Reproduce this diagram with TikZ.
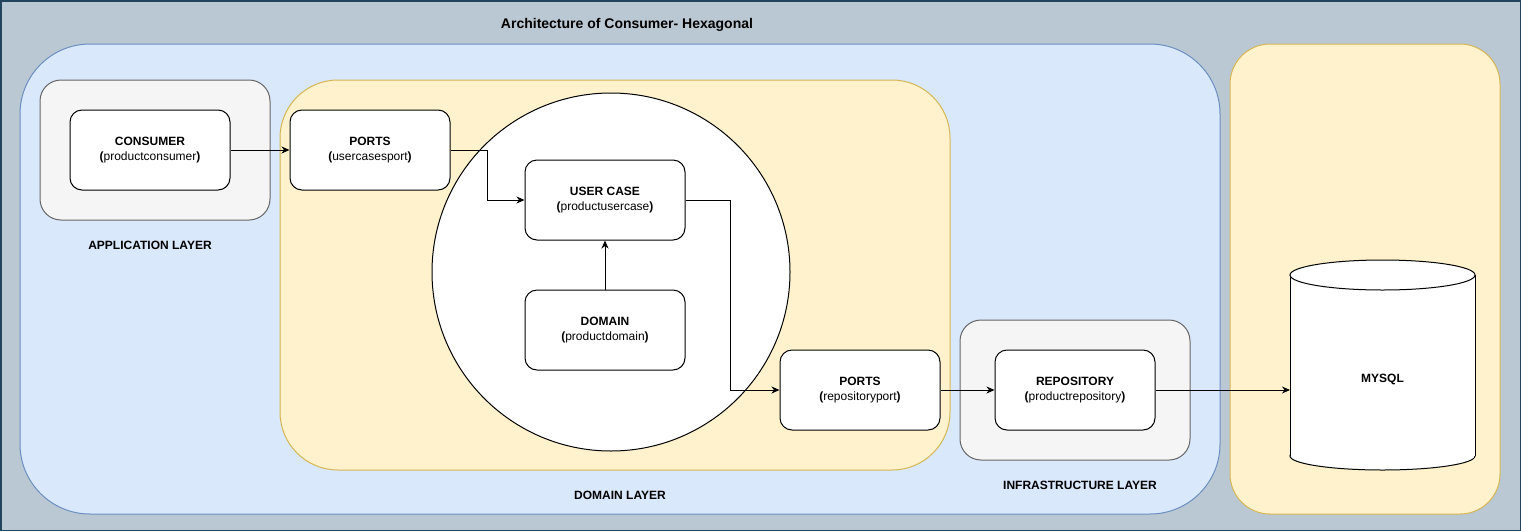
\documentclass[tikz,border=0pt]{standalone}
\usepackage{fontspec}
\setmainfont{Liberation Sans}
\usetikzlibrary{arrows.meta}
\definecolor{bgc}{HTML}{BAC8D3}
\definecolor{bgborder}{HTML}{23445D}
\definecolor{bluefill}{HTML}{DAE8FC}
\definecolor{blueline}{HTML}{6C8EBF}
\definecolor{yelfill}{HTML}{FFF2CC}
\definecolor{yelline}{HTML}{D6B656}
\definecolor{grayfill}{HTML}{F5F5F5}
\definecolor{grayline}{HTML}{666666}
\tikzset{
  txt/.style={font=\fontsize{12}{15}\selectfont, align=center, inner sep=0pt},
  box/.style={txt, draw=black, fill=white, line width=1pt, rounded corners=12pt,
    minimum width=160pt, minimum height=80pt},
  layer/.style={line width=1pt, inner sep=0pt},
  arr/.style={-{Stealth[length=8pt,width=7pt,inset=2.5pt]}, line width=1pt}
}
\begin{document}
\begin{tikzpicture}[x=1pt,y=-1pt]
\useasboundingbox (0,0) rectangle (1521,531);
\draw[fill=bgc, draw=bgborder, line width=1.5pt] (0.75,0.75) rectangle (1520.25,530.25);
\node[txt, font=\fontsize{14}{16}\selectfont] (title) at (627,25) {\textbf{Architecture of Consumer- Hexagonal}};

% containers
\node[layer, draw=blueline, fill=bluefill, rounded corners=70pt, minimum width=1200pt, minimum height=470pt] (hex) at (620,279) {};
\node[layer, draw=yelline, fill=yelfill, rounded corners=40pt, minimum width=270pt, minimum height=470pt] (dbl) at (1365,279) {};
\node[layer, draw=grayline, fill=grayfill, rounded corners=21pt, minimum width=230pt, minimum height=140pt] (app) at (155,150) {};
\node[layer, draw=yelline, fill=yelfill, rounded corners=58pt, minimum width=670pt, minimum height=390pt] (dom) at (615,275) {};
\node[layer, draw=grayline, fill=grayfill, rounded corners=21pt, minimum width=230pt, minimum height=140pt] (infra) at (1075,390) {};
\node[layer, draw=black, fill=white, circle, minimum size=358pt] (core) at (611,272) {};

% labels
\node[txt] (applbl) at (150,245) {\textbf{APPLICATION LAYER}};
\node[txt] (domlbl) at (620,495) {\textbf{DOMAIN LAYER}};
\node[txt] (infralbl) at (1080,485) {\textbf{INFRASTRUCTURE LAYER}};

% boxes
\node[box] (cons) at (150,150) {\textbf{CONSUMER}\\\textbf{(}productconsumer\textbf{)}};
\node[box] (p1) at (370,150) {\textbf{PORTS}\\\textbf{(}usercasesport\textbf{)}};
\node[box] (uc) at (605,200) {\textbf{USER CASE}\\\textbf{(}productusercase\textbf{)}};
\node[box] (dm) at (605,330) {\textbf{DOMAIN}\\\textbf{(}productdomain\textbf{)}};
\node[box] (p2) at (860,390) {\textbf{PORTS}\\\textbf{(}repositoryport\textbf{)}};
\node[box] (repo) at (1075,390) {\textbf{REPOSITORY}\\\textbf{(}productrepository\textbf{)}};

% database cylinder
\draw[fill=white, line width=1pt] (1382.5,456) ellipse[x radius=92.5, y radius=14];
\fill[white] (1290,275) rectangle (1475,456);
\draw[line width=1pt] (1290,275) -- (1290,456);
\draw[line width=1pt] (1475,275) -- (1475,456);
\draw[fill=white, line width=1pt] (1382.5,275) ellipse[x radius=92.5, y radius=15];
\node[txt] (db) at (1382.5,379) {\textbf{MYSQL}};
\coordinate (dbw) at (1290,390);

% connectors
\draw[arr] (cons.east) -- (p1.west);
\draw[arr] (p1.east) -- ++(37,0) |- (uc.west);
\draw[arr] (dm.north) -- (uc.south);
\draw[arr] (uc.east) -- ++(45,0) |- (p2.west);
\draw[arr] (p2.east) -- (repo.west);
\draw[arr] (repo.east) -- (dbw);
\end{tikzpicture}
\end{document}
